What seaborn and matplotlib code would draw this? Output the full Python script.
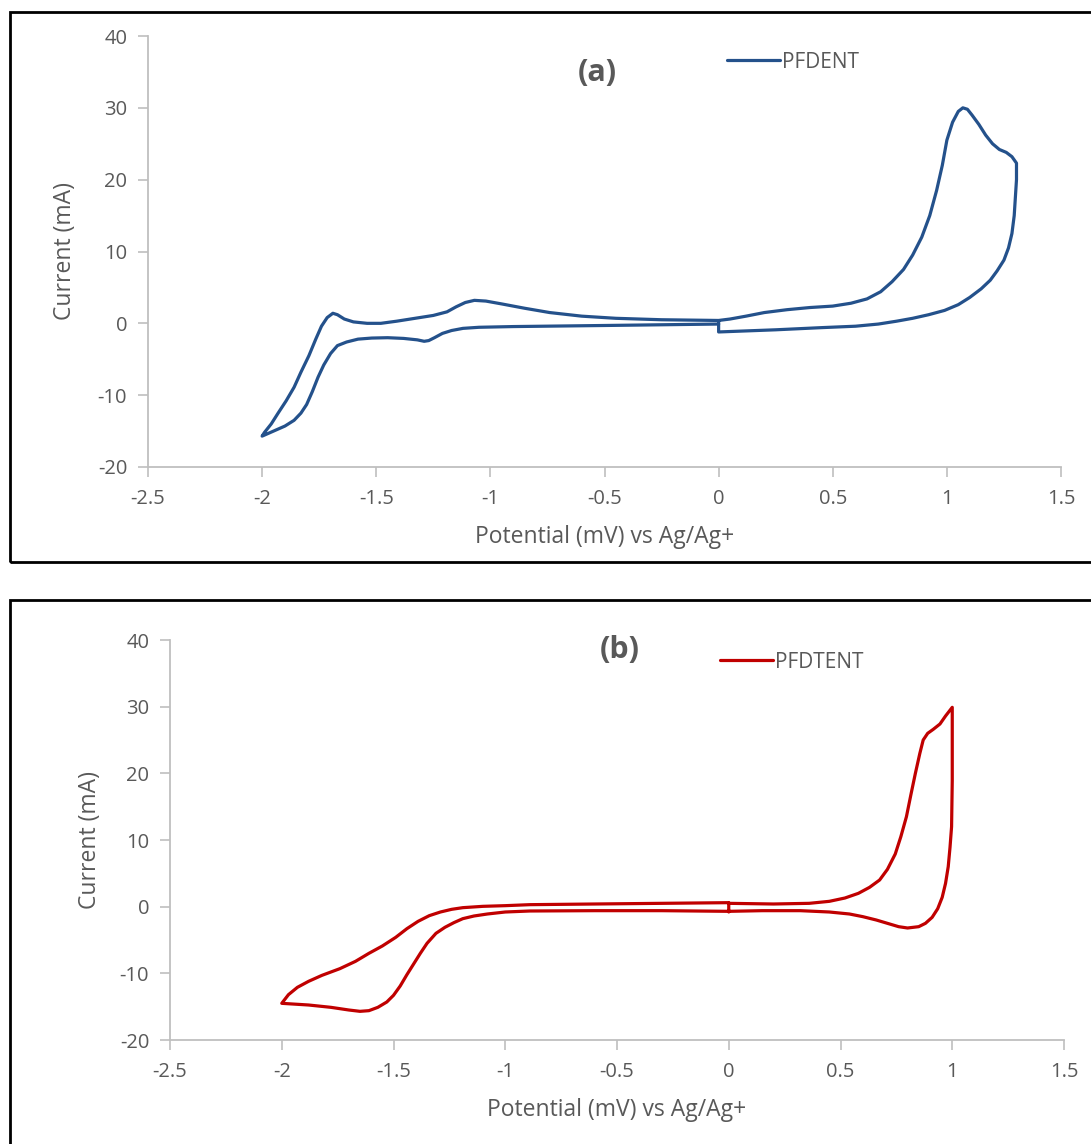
import pandas as pd
import matplotlib.pyplot as plt
import seaborn as sns
from matplotlib.patches import Rectangle

# Curve (a) PFDENT - points traced along the CV loop, in scan order
pot_a = [0, -0.5, -0.9, -1.05, -1.12, -1.17, -1.21, -1.245, -1.27, -1.29, -1.32,
         -1.38, -1.45, -1.52, -1.58, -1.63, -1.67, -1.7, -1.73, -1.755, -1.78,
         -1.805, -1.83, -1.86, -1.9, -1.95, -2.0,
         -1.99, -1.96, -1.93, -1.895, -1.86, -1.83, -1.795, -1.765, -1.74, -1.715,
         -1.69, -1.67, -1.64, -1.6, -1.54, -1.48, -1.41, -1.33, -1.25, -1.19, -1.15,
         -1.11, -1.07, -1.02, -0.95, -0.85, -0.74, -0.6, -0.45, -0.25, 0,
         0.05, 0.12, 0.2, 0.3, 0.4, 0.5, 0.58, 0.65, 0.71, 0.76, 0.81, 0.85, 0.89,
         0.925, 0.955, 0.98, 1.0, 1.025, 1.05, 1.07, 1.09, 1.11, 1.14, 1.17, 1.2,
         1.23, 1.26, 1.285, 1.305,
         1.305, 1.3, 1.295, 1.285, 1.27, 1.25, 1.22, 1.19, 1.15, 1.1, 1.05, 0.99,
         0.92, 0.85, 0.78, 0.7, 0.6, 0.45, 0.25, 0, 0]
cur_a = [-0.1, -0.3, -0.45, -0.55, -0.7, -1.0, -1.4, -2.0, -2.4, -2.5, -2.3,
         -2.1, -2.0, -2.05, -2.2, -2.6, -3.1, -4.2, -5.8, -7.5, -9.5,
         -11.3, -12.5, -13.5, -14.3, -15.0, -15.7,
         -15.2, -14.0, -12.5, -10.8, -8.9, -6.8, -4.5, -2.2, -0.4, 0.8,
         1.4, 1.2, 0.6, 0.2, 0.0, 0.0, 0.3, 0.7, 1.1, 1.6, 2.3,
         2.9, 3.2, 3.1, 2.7, 2.1, 1.5, 1.0, 0.7, 0.5, 0.4,
         0.6, 1.0, 1.5, 1.9, 2.2, 2.4, 2.8, 3.4, 4.4, 5.8, 7.5, 9.5, 12.0,
         15.0, 18.5, 22.0, 25.5, 28.0, 29.5, 30.0, 29.8, 29.0, 27.7, 26.2, 25.0,
         24.2, 23.8, 23.2, 22.3,
         20.0, 17.5, 15.0, 12.5, 10.5, 8.8, 7.3, 6.0, 4.8, 3.6, 2.6, 1.8,
         1.2, 0.7, 0.3, -0.1, -0.4, -0.6, -0.9, -1.2, 0.3]

# Curve (b) PFDTENT
pot_b = [0, 0.2, 0.36, 0.45, 0.52, 0.58, 0.63, 0.675, 0.71, 0.745, 0.77, 0.795,
         0.815, 0.835, 0.855, 0.87, 0.89, 0.915, 0.945, 0.97, 1.0,
         1.0, 1.0, 0.997, 0.99, 0.982, 0.97, 0.955, 0.935, 0.91, 0.88, 0.85, 0.8,
         0.76, 0.71, 0.66, 0.6, 0.54, 0.45, 0.32, 0.15, 0,
         -0.3, -0.6, -0.89, -1.0, -1.08, -1.14, -1.19, -1.23, -1.27, -1.31, -1.35,
         -1.38, -1.41, -1.44, -1.47, -1.5, -1.53, -1.57, -1.61, -1.65, -1.7, -1.78,
         -1.88, -2.0,
         -1.97, -1.93, -1.88, -1.82, -1.74, -1.67, -1.61, -1.55, -1.49, -1.44,
         -1.39, -1.34, -1.29, -1.24, -1.19, -1.1, -1.0, -0.89, -0.6, -0.3, 0, 0]
cur_b = [0.5, 0.4, 0.5, 0.8, 1.3, 2.0, 2.9, 4.0, 5.6, 7.9, 10.5, 13.5,
         16.8, 20.0, 23.0, 25.0, 26.0, 26.6, 27.4, 28.6, 29.9,
         25.0, 18.9, 12.0, 8.9, 6.0, 3.5, 1.4, -0.3, -1.6, -2.5, -3.0, -3.2,
         -3.0, -2.5, -2.0, -1.5, -1.1, -0.8, -0.6, -0.6, -0.7,
         -0.6, -0.6, -0.65, -0.8, -1.1, -1.4, -1.8, -2.4, -3.1, -4.0, -5.5,
         -7.0, -8.6, -10.2, -11.9, -13.3, -14.3, -15.1, -15.6, -15.7, -15.5, -15.1,
         -14.75, -14.5,
         -13.2, -12.1, -11.2, -10.3, -9.3, -8.2, -7.0, -5.9, -4.6, -3.3,
         -2.2, -1.35, -0.8, -0.4, -0.15, 0.05, 0.15, 0.3, 0.4, 0.5, 0.6, -0.8]

x_ticks = [-2.5, -2, -1.5, -1, -0.5, 0, 0.5, 1, 1.5]
x_labels = ["-2.5", "-2", "-1.5", "-1", "-0.5", "0", "0.5", "1", "1.5"]
y_ticks = [-20, -10, 0, 10, 20, 30, 40]

df_a = pd.DataFrame({"Potential": pot_a, "Current": cur_a})
df_b = pd.DataFrame({"Potential": pot_b, "Current": cur_b})

sns.set_style("white")
plt.rcParams["font.family"] = ["Open Sans", "DejaVu Sans"]
plt.rcParams["axes.unicode_minus"] = False

W, H = 1091, 1144
fig = plt.figure(figsize=(W / 100, H / 100), dpi=100)

grey = "#595959"
axcol = "#bfbfbf"


def panel(rect, df, color, name, tag, tag_xy, leg_xy, ylab_x, xlab_y):
    ax = fig.add_axes(rect)
    sns.lineplot(data=df, x="Potential", y="Current", sort=False, estimator=None,
                 color=color, lw=2.3, ax=ax, label=name)
    ax.lines[0].set_solid_joinstyle("round")
    ax.set_xlim(-2.5, 1.5)
    ax.set_ylim(-20, 40)
    ax.set_xticks(x_ticks)
    ax.set_xticklabels(x_labels)
    ax.set_yticks(y_ticks)
    for s in ["top", "right"]:
        ax.spines[s].set_visible(False)
    for s in ["left", "bottom"]:
        ax.spines[s].set_color(axcol)
        ax.spines[s].set_linewidth(1.3)
    ax.tick_params(axis="both", length=7, width=1.2, color=axcol, labelcolor=grey,
                   labelsize=14.5, direction="out", left=True, bottom=True)
    ax.tick_params(axis="y", pad=8)
    ax.tick_params(axis="x", pad=9)
    ax.set_xlabel("Potential (mV) vs Ag/Ag+", fontsize=16.5, color=grey, va="center")
    ax.set_ylabel("Current (mA)", fontsize=16.5, color=grey, va="center")
    ax.yaxis.set_label_coords(ylab_x, 0.5)
    ax.xaxis.set_label_coords(0.5, xlab_y)
    ax.set_facecolor("none")
    ax.text(tag_xy[0], tag_xy[1], tag, transform=ax.transAxes, fontsize=22,
            fontweight="bold", color=grey, ha="center", va="center")
    ax.legend(loc="center left", bbox_to_anchor=leg_xy, frameon=False, fontsize=15,
              handlelength=2.55, handletextpad=0.1, borderaxespad=0, borderpad=0,
              labelcolor=grey)
    return ax


# panel (a)
ax1 = panel([148 / W, 1 - 467 / H, (1061 - 148) / W, (467 - 36) / H], df_a,
            "#24518b", "PFDENT", "(a)", ((597 - 148) / 913, (467 - 73) / 431),
            ((727 - 148) / 913, (467 - 62) / 431), (65 - 148) / 913, (467 - 537) / 431)
# panel (b)
ax2 = panel([170 / W, 1 - 1040 / H, (1064 - 170) / W, (1040 - 640) / H], df_b,
            "#c00000", "PFDTENT", "(b)", ((620 - 170) / 894, (1040 - 650) / 400),
            ((720 - 170) / 894, (1040 - 662) / 400), (90 - 170) / 894, (1040 - 1110) / 400)

# black frames around each panel
fig.add_artist(Rectangle((10 / W, 1 - 562 / H), 1.0, (562 - 12) / H, fill=False,
                         edgecolor="black", lw=2, transform=fig.transFigure))
fig.add_artist(Rectangle((10 / W, -0.01), 1.0, 1 - 600 / H + 0.01, fill=False,
                         edgecolor="black", lw=2, transform=fig.transFigure))

plt.savefig("out.png", dpi=100)
plt.close()
